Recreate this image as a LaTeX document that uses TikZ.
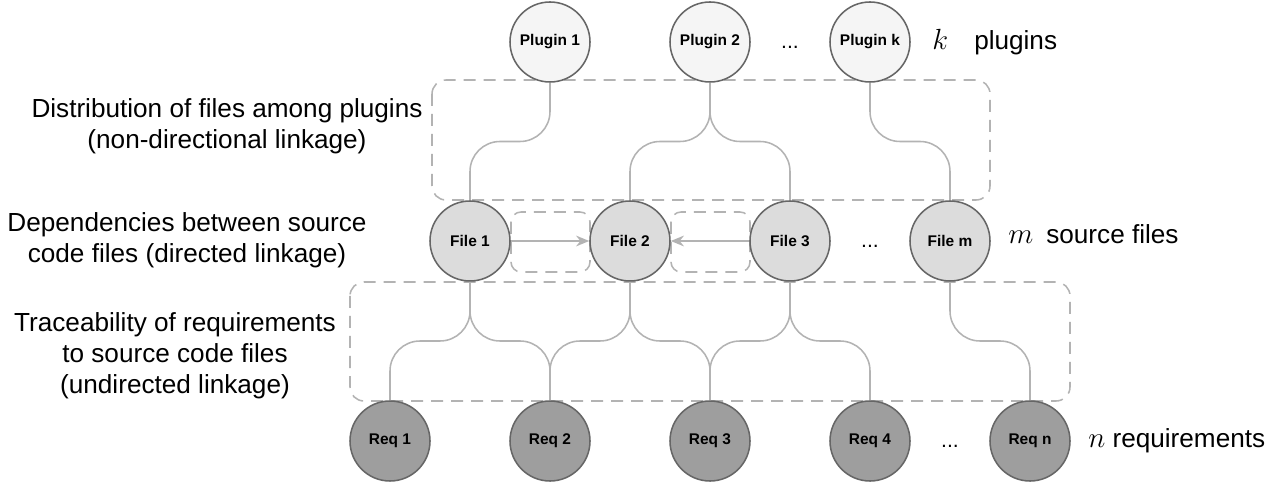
\documentclass[tikz,border=0pt]{standalone}
\usepackage{fontspec}
\setmainfont{Liberation Sans}
\usetikzlibrary{arrows.meta,calc}
\definecolor{linkgray}{HTML}{B3B3B3}
\definecolor{edgegray}{HTML}{666666}
\definecolor{pluginfill}{HTML}{F5F5F5}
\definecolor{filefill}{HTML}{DCDCDC}
\definecolor{reqfill}{HTML}{9E9E9E}

\begin{document}
\begin{tikzpicture}[>={Stealth[length=0.33cm,width=0.27cm]},
  ball/.style={circle, draw=edgegray, line width=1.1pt, minimum size=2cm, inner sep=0pt, font=\fontsize{11}{13}\selectfont\bfseries},
  plugin/.style={ball, fill=pluginfill},
  file/.style={ball, fill=filefill},
  req/.style={ball, fill=reqfill},
  link/.style={draw=linkgray, line width=1.1pt, rounded corners=0.75cm,
    to path={-- ($(\tikztostart)!.5!(\tikztostart |- \tikztotarget)$) -| (\tikztotarget)}},
  dep/.style={->, draw=linkgray, line width=1.1pt},
  group/.style={draw=linkgray, line width=1.1pt, dash pattern=on 0.3cm off 0.2cm, rounded corners=0.35cm},
  lbl/.style={align=center, font=\fontsize{18.6}{22}\selectfont},
  dots/.style={font=\fontsize{15}{18}\selectfont}]

\useasboundingbox (0,0) rectangle (31.775,-12.075);

% grouping frames
\draw[group] (10.8,-2.0) rectangle (24.75,-5.0);
\draw[group] (8.75,-7.05) rectangle (26.75,-10.025);
\draw[group, rounded corners=0.25cm] (12.775,-5.3) rectangle (14.75,-6.8);
\draw[group, rounded corners=0.25cm] (16.775,-5.3) rectangle (18.75,-6.8);

\node[plugin] (p1) at (13.75,-1.05) {Plugin 1};
\node[plugin] (p2) at (17.75,-1.05) {Plugin 2};
\node[plugin] (pk) at (21.75,-1.05) {Plugin k};
\node[dots] (pdots) at (19.75,-1.175) {...};

\node[file] (f1) at (11.75,-6.025) {File 1};
\node[file] (f2) at (15.75,-6.025) {File 2};
\node[file] (f3) at (19.75,-6.025) {File 3};
\node[file] (fm) at (23.75,-6.025) {File m};
\node[dots] (fdots) at (21.75,-6.15) {...};

\node[req] (r1) at (9.75,-11.025) {Req 1};
\node[req] (r2) at (13.75,-11.025) {Req 2};
\node[req] (r3) at (17.75,-11.025) {Req 3};
\node[req] (r4) at (21.75,-11.025) {Req 4};
\node[req] (rn) at (25.75,-11.025) {Req n};
\node[dots] (rdots) at (23.75,-11.15) {...};

% labels
\node[lbl] (distlbl) at (5.675,-3.15) {Distribution of files among plugins\\(non-directional linkage)};
\node[lbl] (deplbl) at (4.675,-6.0) {Dependencies between source\\code files (directed linkage)};
\node[lbl] (tracelbl) at (4.375,-8.9) {Traceability of requirements\\to source code files\\(undirected linkage)};

\node[lbl, anchor=base west, inner sep=0pt] (klbl) at (23.3,-1.25) {{\fontsize{20.5}{22}\selectfont$k$}\quad plugins};
\node[lbl, anchor=base west, inner sep=0pt] (mlbl) at (25.2,-6.1) {{\fontsize{20.5}{22}\selectfont$m$}\enspace source files};
\node[lbl, anchor=base west, inner sep=0pt] (nlbl) at (27.2,-11.175) {{\fontsize{20.5}{22}\selectfont$n$} requirements};

% plugins to files
\draw[link] (p1.south) to (f1.north);
\draw[link] (p2.south) to (f2.north);
\draw[link] (p2.south) to (f3.north);
\draw[link] (pk.south) to (fm.north);

% files to requirements
\draw[link] (f1.south) to (r1.north);
\draw[link] (f1.south) to (r2.north);
\draw[link] (f2.south) to (r2.north);
\draw[link] (f2.south) to (r3.north);
\draw[link] (f3.south) to (r3.north);
\draw[link] (f3.south) to (r4.north);
\draw[link] (fm.south) to (rn.north);

% dependencies
\draw[dep] (f1) -- (f2);
\draw[dep] (f3) -- (f2);

\end{tikzpicture}
\end{document}
